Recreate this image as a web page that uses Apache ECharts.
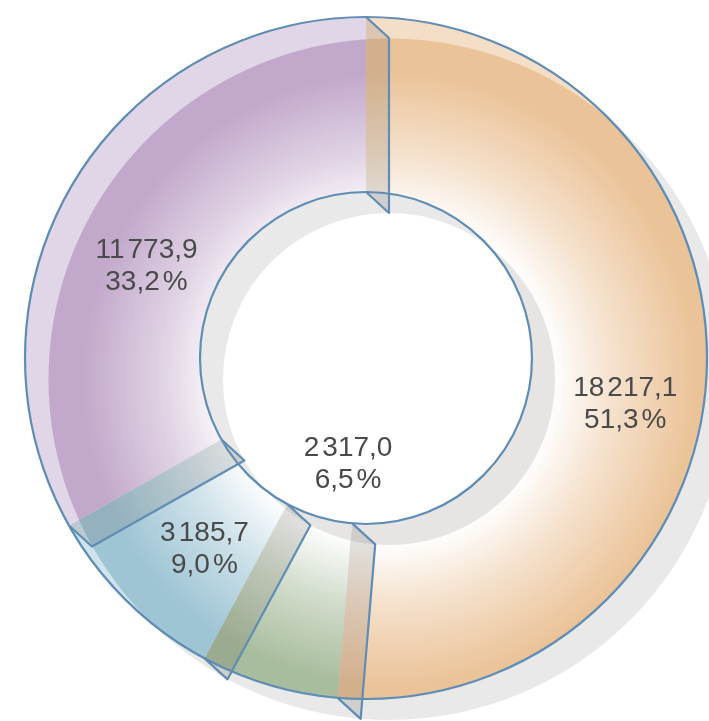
<!DOCTYPE html>
<html>
<head>
<meta charset="utf-8">
<script src="https://cdn.jsdelivr.net/npm/echarts@6/dist/echarts.min.js"></script>
<style>
    html, body { margin: 0; padding: 0; background: #fff; }
    #chart { width: 709px; height: 721px; }
</style>
</head>
<body>
<div id="chart"></div>
<script>
    // slices, clockwise from 12 o'clock
    var sliceNames = ['s1', 's2', 's3', 's4'];
    var sliceValues = [18217.1, 2317.0, 3185.7, 11773.9];

    // look
    var baseColors = ['#ebc398', '#a8bd9d', '#9fc5d5', '#c2a8cb'];
    var rimColors  = ['#f4dec7', '#d3e0cc', '#cfe3ec', '#e1d6e8'];
    var labelShift = [[3, 36], [55, -140], [18, 8], [2, 38]];
    var CX = 366, CY = 358, R_IN = 166, R_OUT = 341;
    var DEPTH = [23, 21];
    var EDGE = '#5f8db4';
    var GREY = '#e7e5e3';

    var total = 0;
    var starts = [];
    for (var i = 0; i < sliceValues.length; i++) {
        starts.push(total);
        total += sliceValues[i];
    }

    function mix(hex, t) {
        // t = share of the colour, the rest is white
        var n = parseInt(hex.slice(1), 16);
        var r = n >> 16, g = (n >> 8) & 255, b = n & 255;
        return 'rgb(' + Math.round(255 + (r - 255) * t) + ',' + Math.round(255 + (g - 255) * t) + ',' + Math.round(255 + (b - 255) * t) + ')';
    }

    function group(s) {
        return s.replace(/\B(?=(\d{3})+(?!\d))/g, '}{s| }{a|');
    }

    function faceColor(i) {
        var k = R_IN / R_OUT;
        return {
            type: 'radial', global: true,
            x: CX + DEPTH[0], y: CY + DEPTH[1], r: R_OUT,
            colorStops: [
                {offset: 0, color: GREY},
                {offset: k - 0.002, color: GREY},
                {offset: k + 0.002, color: mix(baseColors[i], 0.03)},
                {offset: 0.66, color: mix(baseColors[i], 0.5)},
                {offset: 0.9, color: baseColors[i]},
                {offset: 0.997, color: baseColors[i]},
                {offset: 1, color: rimColors[i]}
            ]
        };
    }

    var mainData = [];
    var shadowData = [];
    var wallData = [];
    for (var j = 0; j < sliceValues.length; j++) {
        mainData.push({name: sliceNames[j], value: sliceValues[j], itemStyle: {color: faceColor(j)}});
        shadowData.push({name: sliceNames[j], value: sliceValues[j]});
        wallData.push([0, starts[j]]);
    }

    var mychart = echarts.init(document.getElementById('chart'));
    var option = {
        animation: false,
        polar: {center: [CX, CY], radius: [0, R_OUT]},
        angleAxis: {type: 'value', min: 0, max: total, startAngle: 90, clockwise: true, show: false},
        radiusAxis: {type: 'value', min: 0, max: R_OUT, show: false},
        series: [
            {
                // grey shadow / inner walls
                type: 'pie', z: 1, silent: true,
                center: [CX + DEPTH[0], CY + DEPTH[1]],
                radius: [R_IN, R_OUT],
                label: {show: false}, labelLine: {show: false},
                itemStyle: {color: '#e9e9e9', borderWidth: 0},
                data: shadowData
            },
            {
                type: 'pie', z: 2, silent: true,
                center: [CX, CY],
                radius: [R_IN, R_OUT],
                startAngle: 90, clockwise: true,
                percentPrecision: 1,
                itemStyle: {borderWidth: 0},
                label: {
                    show: true,
                    position: 'inside',
                    formatter: function (p) {
                        var parts = p.value.toFixed(1).split('.');
                        var pct = p.percent.toFixed(1).replace('.', ',');
                        return '{a|' + group(parts[0]) + ',' + parts[1] + '}\n{a|' + pct + '}{s| }{a|%}';
                    },
                    color: '#4a4a4a',
                    textBorderWidth: 0,
                    rich: {
                        a: {fontFamily: 'Liberation Sans', fontSize: 28, lineHeight: 32, color: '#4a4a4a'},
                        s: {fontFamily: 'Liberation Sans', fontSize: 11, lineHeight: 32}
                    }
                },
                labelLayout: function (p) {
                    return {dx: labelShift[p.dataIndex][0], dy: labelShift[p.dataIndex][1]};
                },
                labelLine: {show: false},
                data: mainData
            },
            {
                // slice walls
                type: 'custom', z: 3, silent: true,
                coordinateSystem: 'polar',
                clip: false,
                renderItem: function (params, api) {
                    var a = api.value(1);
                    var o = api.coord([R_OUT, a]);
                    var n = api.coord([R_IN, a]);
                    var o2 = [o[0] + DEPTH[0], o[1] + DEPTH[1]];
                    var n2 = [n[0] + DEPTH[0], n[1] + DEPTH[1]];
                    return {
                        type: 'group',
                        children: [
                            {type: 'polygon', shape: {points: [o, o2, n2, n]}, style: {fill: 'rgba(90,85,80,0.17)'}},
                            {type: 'polyline', shape: {points: [o, o2, n2, n]},
                             style: {stroke: EDGE, lineWidth: 2.2, fill: null, lineJoin: 'round'}}
                        ]
                    };
                },
                data: wallData
            },
            {
                // outer and inner outline
                type: 'pie', z: 4, silent: true,
                center: [CX, CY],
                radius: [R_IN, R_OUT],
                label: {show: false}, labelLine: {show: false},
                itemStyle: {color: 'rgba(0,0,0,0)', borderColor: EDGE, borderWidth: 2.2},
                data: [{name: 'all', value: total}]
            }
        ]
    };
    mychart.setOption(option);
</script>
</body>
</html>
